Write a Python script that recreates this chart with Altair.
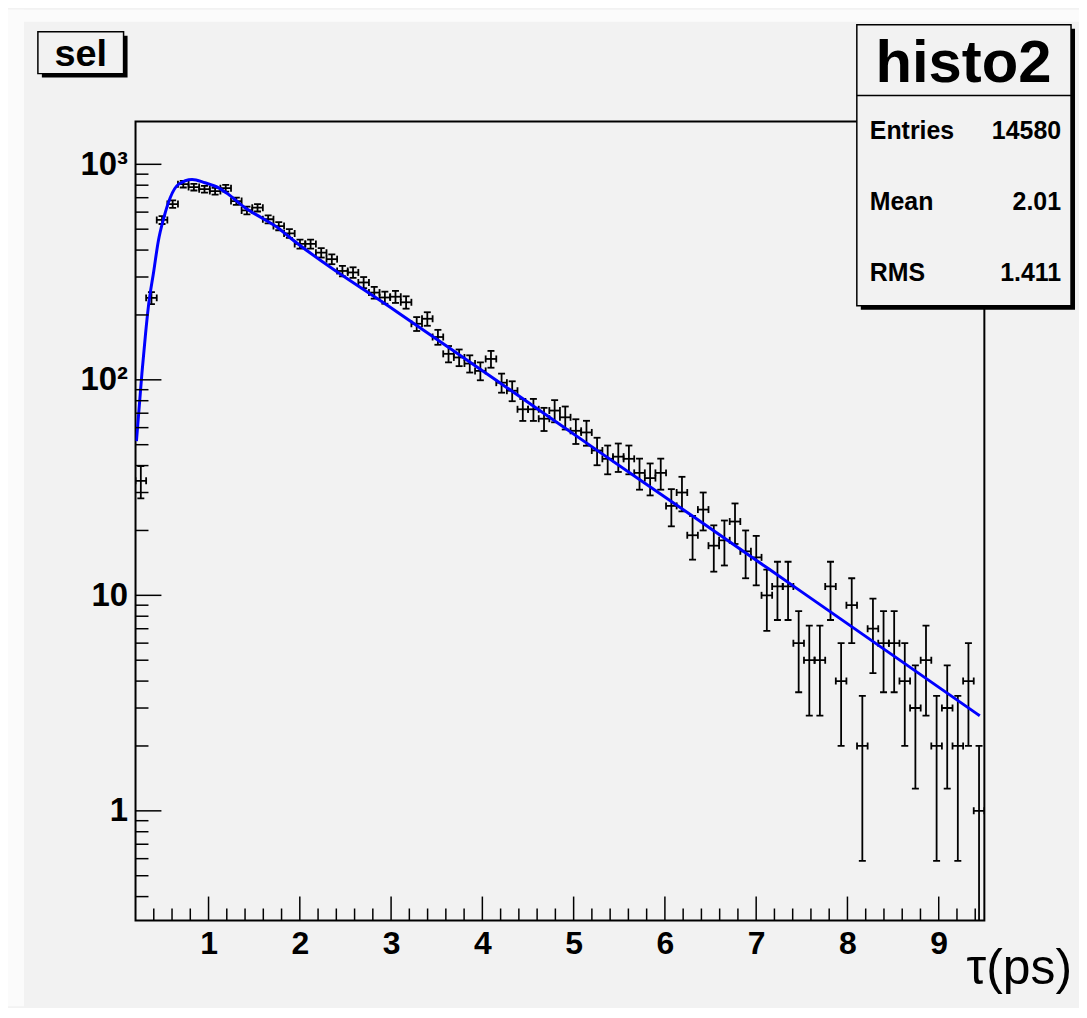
import math
import altair as alt
import pandas as pd

# ---------------- data ----------------
X_MIN, X_MAX = 0.2, 9.5
N_BINS = 80
counts = [34, 240, 552, 654, 809, 784, 767, 751, 775, 675,
          611, 629, 556, 517, 478, 427, 427, 389, 363, 320,
          315, 283, 254, 241, 243, 229, 182, 192, 158, 132,
          127, 119, 110, 125, 97, 89, 73, 73, 66, 72,
          67, 58, 57, 47, 43, 44, 43, 37, 35, 37,
          26, 30, 19, 25, 17, 18, 22, 16, 15, 10,
          11, 11, 6, 5, 5, 11, 4, 9, 2, 7,
          6, 6, 4, 3, 5, 2, 3, 2, 4, 1]

fit_tau = [0.21, 0.27, 0.31, 0.34, 0.40, 0.45, 0.51, 0.58, 0.67, 0.82,
           0.96, 1.11, 1.22, 1.40, 1.58, 1.76, 1.87, 3.07, 4.16, 5.25,
           6.35, 7.44, 9.45]
fit_val = [52, 107, 164, 217, 320, 441, 565, 700, 807, 851,
           821, 778, 725, 629, 565, 508, 465, 206, 99, 47.3,
           22.6, 10.8, 2.76]

x_major = [1, 2, 3, 4, 5, 6, 7, 8, 9]
x_minor = [0.4, 0.6, 0.8, 1.2, 1.4, 1.6, 1.8, 2.2, 2.4, 2.6, 2.8, 3.2, 3.4, 3.6, 3.8,
           4.2, 4.4, 4.6, 4.8, 5.2, 5.4, 5.6, 5.8, 6.2, 6.4, 6.6, 6.8, 7.2, 7.4, 7.6, 7.8,
           8.2, 8.4, 8.6, 8.8, 9.2, 9.4]
y_major = [1, 10, 100, 1000]
y_minor = [0.4, 0.5, 0.6, 0.7, 0.8, 0.9, 2, 3, 4, 5, 6, 7, 8, 9,
           20, 30, 40, 50, 60, 70, 80, 90, 200, 300, 400, 500, 600, 700, 800, 900]
Y_MIN, Y_MAX = 0.31, 1581

title_text = "sel"
stats_name = "histo2"
stats_labels = ["Entries", "Mean", "RMS"]
stats_values = ["14580", "2.01", "1.411"]
x_title = "τ(ps)"

# ---------------- layout ----------------
W, H = 852, 802
FONT = "Liberation Sans"
BG = "#f2f2f2"

w = (X_MAX - X_MIN) / N_BINS
rows = []
for i, n in enumerate(counts):
    c = X_MIN + (i + 0.5) * w
    e = math.sqrt(n)
    rows.append({"xc": c, "xlo": c - w / 2, "xhi": c + w / 2, "n": n,
                 "ylo": max(n - e, Y_MIN), "yhi": n + e, "haslo": n - e > 0})
hist = pd.DataFrame(rows)
fit = pd.DataFrame({"t": fit_tau, "v": fit_val})

xs = alt.Scale(domain=[X_MIN, X_MAX], nice=False, zero=False)
ys = alt.Scale(type="log", domain=[Y_MIN, Y_MAX], nice=False)

xaxis = alt.Axis(values=x_major, labelFont=FONT, labelFontWeight="bold", labelFontSize=32,
                 labelColor="black", labelPadding=8, ticks=False, domain=False, grid=False,
                 labelFlush=False, labelOverlap=False)
yaxis = alt.Axis(values=y_major, labelFont=FONT, labelFontWeight="bold", labelFontSize=33,
                 labelColor="black", labelPadding=8, ticks=False, domain=False, grid=False,
                 labelExpr="datum.value == 1000 ? '10³' : datum.value == 100 ? '10²' : datum.value == 10 ? '10' : '1'",
                 labelFlush=False, labelOverlap=False, labelBaseline="middle")


def X(f):
    return alt.X(f, type="quantitative", scale=xs, axis=xaxis, title=None)


def Y(f):
    return alt.Y(f, type="quantitative", scale=ys, axis=yaxis, title=None)


base = alt.Chart(hist)
hbar = base.mark_rule(color="black", strokeWidth=1.8, clip=True).encode(
    x=X("xlo"), x2="xhi", y=Y("n"))
vbar = base.mark_rule(color="black", strokeWidth=1.8, clip=True).encode(
    x=X("xc"), y=Y("ylo"), y2="yhi")
hcap = dict(shape="M-1,0L1,0", size=49, filled=False, color="black", strokeWidth=1.8, opacity=1, clip=True)
vcap = dict(shape="M0,-1L0,1", size=49, filled=False, color="black", strokeWidth=1.8, opacity=1, clip=True)
cap_top = base.mark_point(**hcap).encode(x=X("xc"), y=Y("yhi"))
cap_bot = base.transform_filter("datum.haslo").mark_point(**hcap).encode(x=X("xc"), y=Y("ylo"))
cap_l = base.mark_point(**vcap).encode(x=X("xlo"), y=Y("n"))
cap_r = base.mark_point(**vcap).encode(x=X("xhi"), y=Y("n"))

curve = alt.Chart(fit).mark_line(color="#0000ff", strokeWidth=3, interpolate="monotone", clip=True).encode(
    x=X("t"), y=Y("v"))

# inward ticks (ROOT style)
xt_major = alt.Chart(pd.DataFrame({"t": x_major})).mark_rule(color="black", strokeWidth=1.5).encode(
    x=X("t"), y=alt.value(H), y2=alt.value(H - 24))
xt_minor = alt.Chart(pd.DataFrame({"t": x_minor})).mark_rule(color="black", strokeWidth=1.5).encode(
    x=X("t"), y=alt.value(H), y2=alt.value(H - 12))
yt_major = alt.Chart(pd.DataFrame({"t": y_major})).mark_rule(color="black", strokeWidth=1.5).encode(
    y=Y("t"), x=alt.value(0), x2=alt.value(26))
yt_minor = alt.Chart(pd.DataFrame({"t": y_minor})).mark_rule(color="black", strokeWidth=1.5).encode(
    y=Y("t"), x=alt.value(0), x2=alt.value(13))

one = pd.DataFrame({"a": [0]})


def box(x1, y1, x2, y2, shadow=4):
    sh = alt.Chart(one).mark_rect(color="black").encode(
        x=alt.value(x1 + shadow), x2=alt.value(x2 + shadow),
        y=alt.value(y1 + shadow), y2=alt.value(y2 + shadow))
    fr = alt.Chart(one).mark_rect(fill=BG, stroke="black", strokeWidth=1.5).encode(
        x=alt.value(x1), x2=alt.value(x2), y=alt.value(y1), y2=alt.value(y2))
    return [sh, fr]


def text(s, x, y, size, align="left", weight="bold"):
    return alt.Chart(one).mark_text(text=s, font=FONT, fontSize=size, fontWeight=weight,
                                    align=align, baseline="alphabetic", color="black").encode(
        x=alt.value(x), y=alt.value(y))


# light bevel of the canvas along the left and top edges
bevel_l = alt.Chart(one).mark_rect(color="#fbfbfb").encode(
    x=alt.value(-128), x2=alt.value(-112), y=alt.value(-112), y2=alt.value(H + 86))
bevel_t = alt.Chart(one).mark_rect(color="#fbfbfb").encode(
    x=alt.value(-128), x2=alt.value(W + 95), y=alt.value(-112), y2=alt.value(-100))

layers = [hbar, vbar, cap_top, cap_bot, cap_l, cap_r, curve,
          xt_major, xt_minor, yt_major, yt_minor, bevel_l, bevel_t]
layers += box(-98, -90, -12, -48)
layers.append(text(title_text, -55, -56, 38, align="center"))
layers += box(724, -97, 939, 185)
layers.append(alt.Chart(one).mark_rule(color="black", strokeWidth=1.5).encode(
    x=alt.value(724), x2=alt.value(939), y=alt.value(-26)))
layers.append(text(stats_name, 831, -40, 60, align="center"))
for k, (lab, val) in enumerate(zip(stats_labels, stats_values)):
    yy = 18 + 71 * k
    layers.append(text(lab, 737, yy, 25))
    layers.append(text(val, 929, yy, 25, align="right"))
layers.append(text(x_title, 940, 866, 50, align="right", weight="normal"))

chart = alt.layer(*layers).properties(
    width=W, height=H,
    autosize=alt.AutoSizeParams(type="none"),
    padding={"left": 128, "top": 112, "right": 95, "bottom": 86},
    background=BG,
).configure_view(stroke="black", strokeWidth=2, fill=BG)

chart.save("out.html", embed_options={"renderer": "svg", "actions": False})
